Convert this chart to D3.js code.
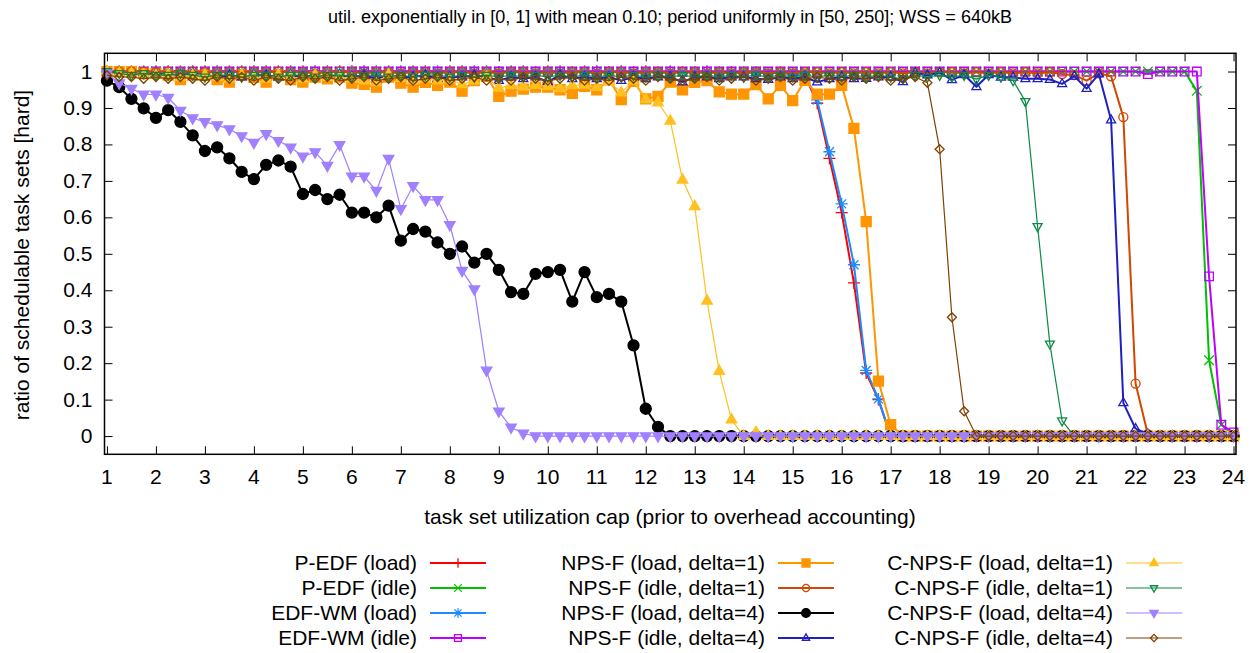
<!DOCTYPE html>
<html>
<head>
<meta charset="utf-8">
<script src="https://cdn.jsdelivr.net/npm/d3@7"></script>
<style>
  html, body { margin: 0; padding: 0; background: #fff; }
  svg { display: block; }
  text { font-family: "Liberation Sans", Arial, sans-serif; fill: #000; }
</style>
</head>
<body>
<svg id="chart" width="1258" height="653"></svg>
<script>
// ---------------- data ----------------
const xValues = [
  1, 1.25, 1.5, 1.75, 2, 2.25, 2.5, 2.75, 3, 3.25,
  3.5, 3.75, 4, 4.25, 4.5, 4.75, 5, 5.25, 5.5, 5.75,
  6, 6.25, 6.5, 6.75, 7, 7.25, 7.5, 7.75, 8, 8.25,
  8.5, 8.75, 9, 9.25, 9.5, 9.75, 10, 10.25, 10.5, 10.75,
  11, 11.25, 11.5, 11.75, 12, 12.25, 12.5, 12.75, 13, 13.25,
  13.5, 13.75, 14, 14.25, 14.5, 14.75, 15, 15.25, 15.5, 15.75,
  16, 16.25, 16.5, 16.75, 17, 17.25, 17.5, 17.75, 18, 18.25,
  18.5, 18.75, 19, 19.25, 19.5, 19.75, 20, 20.25, 20.5, 20.75,
  21, 21.25, 21.5, 21.75, 22, 22.25, 22.5, 22.75, 23, 23.25,
  23.5, 23.75, 24
];

const xTicks = [1,2,3,4,5,6,7,8,9,10,11,12,13,14,15,16,17,18,19,20,21,22,23,24];
const yTicks = [0,0.1,0.2,0.3,0.4,0.5,0.6,0.7,0.8,0.9,1];
const yTickLabels = ["0","0.1","0.2","0.3","0.4","0.5","0.6","0.7","0.8","0.9","1"];

const titleText = "util. exponentially in [0, 1] with mean 0.10; period uniformly in [50, 250]; WSS = 640kB";
const xLabelText = "task set utilization cap (prior to overhead accounting)";
const yLabelText = "ratio of schedulable task sets [hard]";

const seriesNames = [
  "P-EDF (load)", "P-EDF (idle)", "EDF-WM (load)", "EDF-WM (idle)",
  "NPS-F (load, delta=1)", "NPS-F (idle, delta=1)", "NPS-F (load, delta=4)", "NPS-F (idle, delta=4)",
  "C-NPS-F (load, delta=1)", "C-NPS-F (idle, delta=1)", "C-NPS-F (load, delta=4)", "C-NPS-F (idle, delta=4)"
];

const pedfLoad = [
  1,1,1,1,1,1,1,1,1,1,
  1,1,1,1,1,1,1,1,1,1,
  1,1,1,1,1,1,1,1,1,1,
  1,1,0.998,1,1,0.998,1,1,0.998,1,
  1,0.998,1,0.998,1,0.997,1,0.998,0.998,1,
  0.997,0.998,0.997,0.998,0.995,0.997,0.993,0.99,0.913,0.762,
  0.613,0.42,0.173,0.10,0,0,0,0,0,0,
  0,0,0,0,0,0,0,0,0,0,
  0,0,0,0,0,0,0,0,0,0,
  0,0,0
];
const pedfIdle = [
  1,1,1,1,1,1,1,1,1,1,
  1,1,1,1,1,1,1,1,1,1,
  1,1,1,1,1,1,1,1,1,1,
  1,1,1,1,1,1,1,1,1,1,
  1,1,1,1,1,1,1,1,1,1,
  1,1,1,1,1,1,1,1,1,1,
  1,1,1,1,1,1,1,1,1,1,
  1,1,1,1,1,1,1,1,1,1,
  1,1,1,1,1,1,1,1,1,0.947,
  0.208,0.031,0.003
];
const edfwmLoad = [
  1,1,1,1,1,1,1,1,1,1,
  1,1,1,1,1,1,1,1,1,1,
  1,1,1,1,1,1,1,1,1,1,
  1,1,0.998,1,1,0.998,1,1,0.998,1,
  1,0.998,1,0.998,1,0.997,1,0.998,0.998,1,
  0.997,0.998,0.997,0.998,0.995,0.997,0.993,0.99,0.922,0.78,
  0.637,0.47,0.18,0.102,0,0,0,0,0,0,
  0,0,0,0,0,0,0,0,0,0,
  0,0,0,0,0,0,0,0,0,0,
  0,0,0
];
const edfwmIdle = [
  1,1,1,1,1,1,1,1,1,1,
  1,1,1,1,1,1,1,1,1,1,
  1,1,1,1,1,1,1,1,1,1,
  1,1,1,1,1,1,1,1,1,1,
  1,1,1,1,1,1,1,1,1,1,
  1,1,1,1,1,1,1,1,1,1,
  1,1,1,1,1,1,1,1,1,1,
  1,1,1,1,1,1,1,1,1,1,
  1,1,1,1,1,0.993,1,1,1,1,
  0.438,0.031,0.01
];
const npsfLoadD1 = [
  1,1,1,0.995,0.995,0.99,0.978,0.99,0.99,0.978,
  0.971,0.99,0.984,0.971,0.99,0.978,0.971,0.985,0.98,0.985,
  0.968,0.965,0.957,0.985,0.968,0.957,0.97,0.962,0.971,0.946,
  0.975,0.987,0.932,0.946,0.952,0.957,0.957,0.95,0.94,0.959,
  0.95,0.978,0.923,0.973,0.925,0.932,0.971,0.95,0.97,0.975,
  0.944,0.938,0.938,0.964,0.925,0.962,0.92,0.976,0.938,0.938,
  0.962,0.844,0.588,0.151,0.031,0,0,0,0,0,
  0,0,0,0,0,0,0,0,0,0,
  0,0,0,0,0,0,0,0,0,0,
  0,0,0
];
const npsfIdleD1 = [
  1,1,1,1,0.998,1,0.998,1,0.998,0.998,
  0.998,1,0.998,0.998,1,0.998,0.998,0.995,0.998,1,
  0.998,0.995,0.998,0.998,0.995,0.998,0.998,0.995,0.998,0.998,
  0.995,0.998,0.995,0.998,0.998,0.995,0.998,0.995,0.998,0.998,
  0.995,0.998,0.998,0.995,0.998,0.998,0.995,0.998,0.998,0.995,
  0.998,0.995,0.998,0.998,0.995,0.998,0.995,0.998,0.998,0.995,
  0.998,0.995,0.998,0.995,0.998,0.995,0.998,0.995,0.998,0.998,
  0.995,0.998,0.995,0.998,0.995,0.998,0.995,0.998,0.993,0.99,
  0.975,0.995,0.987,0.875,0.144,0.005,0,0,0,0,
  0,0,0
];
const npsfLoadD4 = [
  0.975,0.957,0.925,0.899,0.873,0.894,0.862,0.825,0.782,0.792,
  0.762,0.725,0.705,0.744,0.756,0.739,0.664,0.675,0.650,0.662,
  0.613,0.613,0.600,0.632,0.536,0.568,0.561,0.531,0.500,0.520,
  0.476,0.500,0.456,0.395,0.390,0.445,0.450,0.456,0.369,0.450,
  0.381,0.390,0.369,0.249,0.075,0.025,0,0,0,0,
  0,0,0,0,0,0,0,0,0,0,
  0,0,0,0,0,0,0,0,0,0,
  0,0,0,0,0,0,0,0,0,0,
  0,0,0,0,0,0,0,0,0,0,
  0,0,0
];
const npsfIdleD4 = [
  1,0.995,0.995,0.99,0.995,0.99,0.99,0.995,0.99,0.985,
  0.99,0.985,0.99,0.99,0.985,0.99,0.985,0.99,0.985,0.99,
  0.985,0.99,0.98,0.99,0.985,0.985,0.99,0.98,0.985,0.985,
  0.99,0.985,0.975,0.985,0.98,0.985,0.972,0.99,0.98,0.985,
  0.98,0.985,0.975,0.985,0.98,0.985,0.985,0.971,0.985,0.985,
  0.98,0.985,0.985,0.98,0.978,0.985,0.98,0.985,0.971,0.98,
  0.985,0.98,0.981,0.985,0.985,0.972,0.997,0.99,0.997,0.977,
  0.991,0.958,0.991,0.984,0.984,0.98,0.98,0.978,0.966,0.987,
  0.953,0.993,0.867,0.091,0.02,0.005,0,0,0,0,
  0,0,0
];
const cnpsfLoadD1 = [
  1,0.995,0.995,0.99,0.99,0.99,0.985,0.99,0.99,0.985,
  0.98,0.99,0.985,0.98,0.99,0.985,0.98,0.99,0.985,0.985,
  0.98,0.975,0.97,0.991,0.982,0.975,0.98,0.975,0.978,0.965,
  0.975,0.985,0.955,0.962,0.958,0.963,0.96,0.954,0.962,0.963,
  0.957,0.972,0.942,0.975,0.924,0.915,0.865,0.703,0.63,0.371,
  0.178,0.045,0,0.01,0,0,0,0,0,0,
  0,0,0,0,0,0,0,0,0,0,
  0,0,0,0,0,0,0,0,0,0,
  0,0,0,0,0,0,0,0,0,0,
  0,0,0
];
const cnpsfIdleD1 = [
  1,0.995,0.99,0.995,0.99,0.99,0.995,0.99,0.985,0.99,
  0.99,0.985,0.99,0.99,0.985,0.99,0.99,0.985,0.99,0.99,
  0.985,0.99,0.99,0.985,0.99,0.985,0.99,0.99,0.985,0.99,
  0.985,0.99,0.985,0.99,0.985,0.99,0.985,0.99,0.985,0.99,
  0.985,0.99,0.985,0.99,0.985,0.99,0.985,0.99,0.985,0.99,
  0.985,0.99,0.985,0.99,0.985,0.99,0.985,0.99,0.985,0.99,
  0.985,0.99,0.985,0.99,0.985,0.98,0.99,0.985,0.99,0.985,
  0.99,0.979,0.99,0.985,0.975,0.918,0.575,0.253,0.042,0,
  0,0,0,0,0,0,0,0,0,0,
  0,0,0
];
const cnpsfLoadD4 = [
  0.995,0.968,0.953,0.937,0.937,0.928,0.893,0.872,0.862,0.853,
  0.842,0.823,0.805,0.829,0.810,0.792,0.767,0.779,0.742,0.799,
  0.712,0.712,0.673,0.761,0.623,0.686,0.648,0.648,0.579,0.454,
  0.403,0.180,0.068,0.024,0.007,0,0,0,0,0,
  0,0,0,0,0,0,0,0,0,0,
  0,0,0,0,0,0,0,0,0,0,
  0,0,0,0,0,0,0,0,0,0,
  0,0,0,0,0,0,0,0,0,0,
  0,0,0,0,0,0,0,0,0,0,
  0,0,0
];
const cnpsfIdleD4 = [
  0.99,0.985,0.985,0.98,0.985,0.98,0.985,0.98,0.975,0.985,
  0.98,0.985,0.975,0.985,0.98,0.975,0.985,0.98,0.985,0.975,
  0.98,0.985,0.975,0.98,0.985,0.975,0.98,0.985,0.975,0.98,
  0.985,0.975,0.98,0.975,0.985,0.98,0.975,0.98,0.985,0.975,
  0.98,0.975,0.985,0.98,0.975,0.985,0.98,0.975,0.98,0.985,
  0.975,0.98,0.985,0.975,0.98,0.985,0.975,0.98,0.985,0.98,
  0.975,0.985,0.98,0.985,0.975,0.98,0.985,0.969,0.787,0.326,
  0.068,0,0,0,0,0,0,0,0,0,
  0,0,0,0,0,0,0,0,0,0,
  0,0,0
];

const seriesValues = [
  pedfLoad, pedfIdle, edfwmLoad, edfwmIdle,
  npsfLoadD1, npsfIdleD1, npsfLoadD4, npsfIdleD4,
  cnpsfLoadD1, cnpsfIdleD1, cnpsfLoadD4, cnpsfIdleD4
];
const seriesColors = [
  "#ff0000", "#00c000", "#1a8cff", "#c000ff",
  "#ff9500", "#d04800", "#000000", "#2020c0",
  "#ffc020", "#0a8a44", "#a080ff", "#804000"
];
const seriesMarkers = [
  "plus", "cross", "star", "square",
  "squareF", "circle", "circleF", "triUp",
  "triUpF", "triDown", "triDownF", "diamond"
];
const seriesWidths = [2, 2, 2, 2, 2, 2, 2, 2, 1.2, 1.2, 1.2, 1.2];

// ---------------- layout ----------------
const FONT = 21;
const TITLE_FONT = 18;
const plot = { left: 104.5, right: 1236, top: 53.3, bottom: 454.3 };

const svg = d3.select("#chart");
const x = d3.scaleLinear().domain([0.95, 24.05]).range([plot.left, plot.right]);
const y = d3.scaleLinear().domain([-0.05, 1.05]).range([plot.bottom, plot.top]);

function markerPath(type, s) {
  switch (type) {
    case "plus": return `M${-s},0H${s}M0,${-s}V${s}`;
    case "cross": return `M${-s},${-s}L${s},${s}M${-s},${s}L${s},${-s}`;
    case "star": { const d = s * 0.75; return `M${-s},0H${s}M0,${-s}V${s}M${-d},${-d}L${d},${d}M${-d},${d}L${d},${-d}`; }
    case "square": case "squareF": return `M${-s},${-s}H${s}V${s}H${-s}Z`;
    case "circle": case "circleF": return `M${s},0A${s},${s} 0 1,1 ${-s},0A${s},${s} 0 1,1 ${s},0Z`;
    case "triUp": case "triUpF": return `M0,${-s * 1.2}L${s * 1.05},${s * 0.65}L${-s * 1.05},${s * 0.65}Z`;
    case "triDown": case "triDownF": return `M0,${s * 1.2}L${s * 1.05},${-s * 0.65}L${-s * 1.05},${-s * 0.65}Z`;
    case "diamond": return `M0,${-s}L${s},0L0,${s}L${-s},0Z`;
  }
}
const markerSize = {
  plus: 6, cross: 4.8, star: 6, square: 4.3, squareF: 5, circle: 4.5,
  circleF: 5.5, triUp: 4.3, triUpF: 5, triDown: 4.3, triDownF: 5, diamond: 4.5
};
function isFilled(t) { return t.endsWith("F"); }

// ---------------- axes / border ----------------
const axisG = svg.append("g");
const xAxisBottom = d3.axisBottom(x).tickValues(xTicks).tickSize(-8).tickFormat("");
const xAxisTop = d3.axisTop(x).tickValues(xTicks).tickSize(-8).tickFormat("");
const yAxisLeft = d3.axisLeft(y).tickValues(yTicks).tickSize(-8).tickFormat("");
const yAxisRight = d3.axisRight(y).tickValues(yTicks).tickSize(-8).tickFormat("");

function styleAxis(g) {
  g.select(".domain").remove();
  g.selectAll(".tick line").attr("stroke", "#000").attr("stroke-width", 1);
}
axisG.append("g").attr("transform", `translate(0,${plot.bottom})`).call(xAxisBottom).call(styleAxis);
axisG.append("g").attr("transform", `translate(0,${plot.top})`).call(xAxisTop).call(styleAxis);
axisG.append("g").attr("transform", `translate(${plot.left},0)`).call(yAxisLeft).call(styleAxis);
axisG.append("g").attr("transform", `translate(${plot.right},0)`).call(yAxisRight).call(styleAxis);

svg.append("g").selectAll("text").data(xTicks).join("text")
  .attr("x", d => x(d)).attr("y", plot.bottom + 30)
  .attr("text-anchor", "middle").attr("font-size", FONT)
  .text(d => d);
svg.append("g").selectAll("text").data(yTicks).join("text")
  .attr("x", plot.left - 12).attr("y", d => y(d) + 7)
  .attr("text-anchor", "end").attr("font-size", FONT)
  .text((d, i) => yTickLabels[i]);

svg.append("text").attr("x", 670).attr("y", 23).attr("text-anchor", "middle")
  .attr("font-size", TITLE_FONT).text(titleText);
svg.append("text").attr("x", 670).attr("y", 524).attr("text-anchor", "middle")
  .attr("font-size", FONT).text(xLabelText);
svg.append("text").attr("transform", "translate(29,255) rotate(-90)")
  .attr("text-anchor", "middle").attr("font-size", FONT).text(yLabelText);

// ---------------- series ----------------
const line = d3.line().x((d, i) => x(xValues[i])).y(d => y(d));
const seriesG = svg.append("g");
seriesValues.forEach((vals, si) => {
  const g = seriesG.append("g");
  const col = seriesColors[si];
  const mt = seriesMarkers[si];
  g.append("path").datum(vals).attr("d", line)
    .attr("fill", "none").attr("stroke", col)
    .attr("stroke-width", seriesWidths[si]).attr("stroke-linejoin", "round");
  const p = markerPath(mt, markerSize[mt]);
  g.selectAll("path.m").data(vals).join("path").attr("class", "m")
    .attr("transform", (d, i) => `translate(${x(xValues[i])},${y(d)})`)
    .attr("d", p)
    .attr("fill", isFilled(mt) ? col : "none")
    .attr("stroke", col)
    .attr("stroke-width", 1.3);
});

svg.append("rect")
  .attr("x", plot.left).attr("y", plot.top)
  .attr("width", plot.right - plot.left).attr("height", plot.bottom - plot.top)
  .attr("fill", "none").attr("stroke", "#000").attr("stroke-width", 1.5);

// ---------------- legend ----------------
const legendCols = [417, 765, 1113];
const legendRows = [563, 588, 613, 638];
const legG = svg.append("g");
seriesNames.forEach((name, si) => {
  const cx = legendCols[Math.floor(si / 4)];
  const cy = legendRows[si % 4];
  const col = seriesColors[si];
  const mt = seriesMarkers[si];
  legG.append("text").attr("x", cx).attr("y", cy + 7)
    .attr("text-anchor", "end").attr("font-size", FONT).text(name);
  legG.append("line").attr("x1", cx + 13).attr("x2", cx + 69)
    .attr("y1", cy).attr("y2", cy)
    .attr("stroke", col).attr("stroke-width", seriesWidths[si]);
  legG.append("path").attr("transform", `translate(${cx + 41},${cy})`)
    .attr("d", markerPath(mt, markerSize[mt] * 0.8))
    .attr("fill", isFilled(mt) ? col : "none")
    .attr("stroke", col).attr("stroke-width", 1.3);
});
</script>
</body>
</html>
